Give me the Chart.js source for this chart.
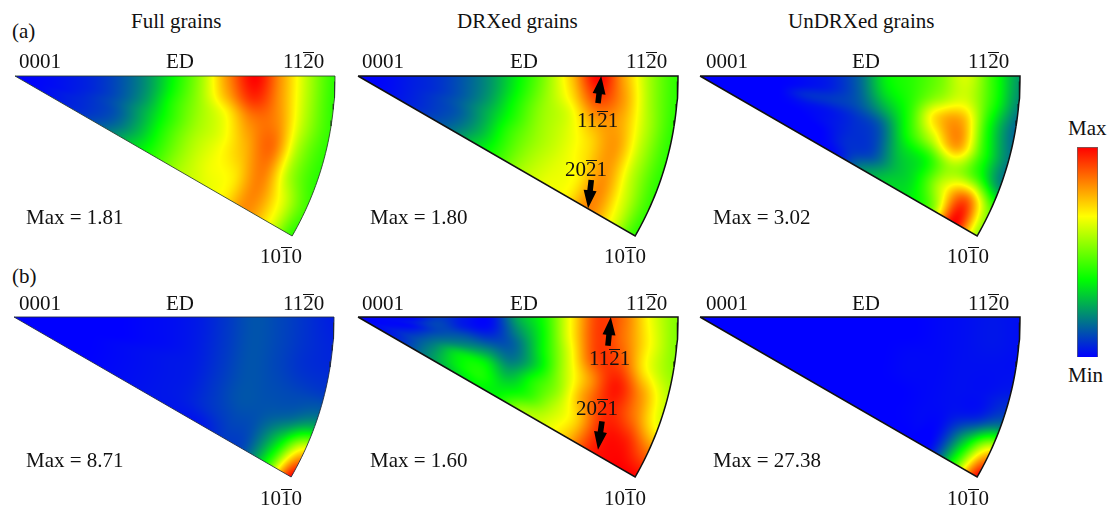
<!DOCTYPE html>
<html>
<head>
<meta charset="utf-8">
<script src="https://cdn.jsdelivr.net/npm/chart.js@4"></script>
<style>
  html, body { margin: 0; padding: 0; background: #fff; }
  #page { position: relative; width: 1110px; height: 509px; overflow: hidden; }
  canvas { position: absolute; }
  .t { position: absolute; font: 21px/24px "Liberation Serif", serif; color: #111; white-space: nowrap; }
  .bar { position: relative; }
  .bar::after { content: ""; position: absolute; left: 0; right: 0; top: 2.7px; border-top: 1.3px solid #111; }
</style>
</head>
<body>
<div id="page"></div>
<script>
// intensity grids, 0 = Min, 1 = Max
// one row per angle from the top edge, one column per radius from the 0001 corner
const angleDeg = [0, 5, 10, 15, 20, 25, 30];
const radius = [0, 1/12, 2/12, 3/12, 4/12, 5/12, 6/12, 7/12, 8/12, 9/12, 10/12, 11/12, 1];

const fullA = [
    [0,.01,.03,.06,.12,.22,.38,.56,.82,1,.8,.58,.42],
    [0,.01,.03,.06,.12,.22,.39,.56,.78,.95,.8,.58,.42],
    [0,.01,.03,.06,.12,.23,.41,.55,.67,.84,.82,.58,.43],
    [0,.01,.03,.07,.13,.25,.41,.55,.64,.78,.86,.56,.42],
    [0,.01,.04,.07,.12,.25,.42,.56,.65,.74,.84,.56,.42],
    [0,.01,.04,.07,.13,.26,.42,.56,.65,.69,.83,.65,.45],
    [0,.01,.04,.08,.16,.29,.42,.56,.63,.68,.82,.67,.42]
];
const drxA = [
    [0,.01,.04,.07,.13,.22,.36,.52,.74,1,.78,.55,.42],
    [0,.01,.04,.07,.13,.22,.37,.53,.7,.92,.8,.56,.42],
    [0,.01,.04,.07,.13,.23,.39,.54,.63,.8,.78,.58,.42],
    [0,.01,.04,.08,.14,.25,.4,.54,.62,.72,.8,.58,.42],
    [0,.01,.04,.08,.13,.25,.42,.54,.62,.7,.8,.58,.42],
    [0,.01,.04,.08,.14,.26,.42,.55,.63,.68,.82,.62,.43],
    [0,.01,.04,.09,.16,.29,.42,.56,.64,.68,.83,.65,.42]
];
const undrxA = [
    [0,0,0,0,.02,.05,.15,.36,.42,.5,.62,.42,.22],
    [0,0,0,0,.02,.05,.14,.33,.42,.54,.62,.42,.2],
    [0,0,0,0,.06,.08,.12,.25,.42,.72,.78,.38,.15],
    [0,0,0,0,.02,.03,.07,.14,.38,.6,.8,.42,.18],
    [0,0,0,0,0,.02,.06,.1,.3,.38,.56,.45,.2],
    [0,0,0,0,0,0,.06,.1,.26,.36,.62,.88,.5],
    [0,0,0,0,0,0,.03,.2,.3,.34,.5,1,.55]
];
const fullB = [
    [0,0,0,0,0,.01,.02,.04,.08,.12,.1,.07,.04],
    [0,0,0,0,0,.01,.02,.04,.08,.12,.1,.07,.05],
    [0,0,0,0,0,.01,.02,.04,.08,.12,.1,.07,.06],
    [0,0,0,0,.01,.02,.03,.04,.08,.12,.11,.1,.1],
    [0,0,0,0,.01,.02,.03,.04,.08,.12,.12,.15,.25],
    [0,0,0,0,.01,.02,.03,.04,.07,.1,.13,.33,.72],
    [0,0,0,0,.01,.02,.03,.03,.03,.08,.12,.42,1]
];
const drxB = [
    [0,0,0,.08,.03,.02,.25,.4,.68,.92,.85,.65,.52],
    [0,.01,.03,.1,.04,.03,.2,.38,.67,.92,.85,.67,.52],
    [0,.01,.02,.1,.12,.1,.15,.36,.62,.9,.9,.67,.54],
    [0,.01,.05,.14,.2,.22,.17,.33,.58,.8,.97,.8,.6],
    [0,.02,.08,.18,.33,.36,.25,.4,.55,.8,.95,.85,.65],
    [0,.02,.08,.2,.34,.4,.33,.42,.58,.72,.95,.97,.85],
    [0,.02,.08,.2,.3,.36,.37,.55,.62,.74,.95,1,1]
];
const undrxB = [
    [0,0,0,0,0,0,0,0,0,.01,.02,.03,.02],
    [0,0,0,0,0,0,0,0,0,.01,.02,.03,.02],
    [0,0,0,0,0,0,0,0,.01,.01,.02,.02,.02],
    [0,0,0,0,0,0,0,0,.01,.01,.02,.02,.05],
    [0,0,0,0,0,0,0,0,0,.01,.02,.05,.18],
    [0,0,0,0,0,0,0,0,0,.01,.03,.3,.72],
    [0,0,0,0,0,0,0,0,0,0,.03,.42,1]
];

// colour scale, same stops for the wedges and the bar
const colorStops = [0, .37, .67, 1];
const colorValues = [[0,0,255], [0,255,0], [255,255,0], [255,0,0]];

const panels = [
    {rows: fullA, apexX: 15, apexY: 76, line: 'rgba(40,60,40,.85)', lineWidth: 1},
    {rows: drxA, apexX: 358, apexY: 76, line: '#111', lineWidth: 1.5},
    {rows: undrxA, apexX: 700, apexY: 76, line: '#111', lineWidth: 1.5},
    {rows: fullB, apexX: 14, apexY: 317, line: 'rgba(30,40,60,.85)', lineWidth: 1},
    {rows: drxB, apexX: 358, apexY: 317, line: '#111', lineWidth: 1.5},
    {rows: undrxB, apexX: 700, apexY: 317, line: '#111', lineWidth: 1.5}
];

// arrows in wedge units: tail then head
panels[1].arrows = [[.75, -.085, .76, 0], [.729, -.325, .719, -.4135]];
panels[4].arrows = [[.781, -.09, .79, 0], [.7625, -.326, .75, -.415]];

const R_PX = 320;
const PAD = 10;
const page = document.getElementById('page');

function colorAt(v) {
    v = Math.max(0, Math.min(1, v));
    let i = 0;
    while (i < colorStops.length - 2 && v > colorStops[i + 1]) i++;
    const f = (v - colorStops[i]) / (colorStops[i + 1] - colorStops[i]);
    return colorValues[i].map((c, k) => c + (colorValues[i + 1][k] - c) * f);
}

function cubic(a, b, c, d, t) {
    return b + .5 * t * (c - a + t * (2 * a - 5 * b + 4 * c - d + t * (3 * (b - c) + d - a)));
}

// smooth lookup in a grid of values
function sample(rows, rowPos, colPos) {
    const nr = rows.length, nc = rows[0].length;
    const i = Math.min(nr - 2, Math.max(0, Math.floor(rowPos)));
    const j = Math.min(nc - 2, Math.max(0, Math.floor(colPos)));
    const at = (a, b) => rows[Math.max(0, Math.min(nr - 1, a))][Math.max(0, Math.min(nc - 1, b))];
    const col = [];
    for (let k = -1; k <= 2; k++) {
        col.push(cubic(at(i + k, j - 1), at(i + k, j), at(i + k, j + 1), at(i + k, j + 2), colPos - j));
    }
    return cubic(col[0], col[1], col[2], col[3], rowPos - i);
}

const heatPlugin = {
    id: 'heat',
    beforeDatasetsDraw(chart) {
        const ctx = chart.ctx, sx = chart.scales.x, sy = chart.scales.y;
        const w = chart.width, h = chart.height;
        const img = ctx.createImageData(w, h);
        const nodes = chart.data.datasets[0].data;
        const rows = angleDeg.map((a, i) => radius.map((r, j) => nodes[i * radius.length + j].v));
        const sin30 = Math.sin(Math.PI / 6), cos30 = Math.cos(Math.PI / 6);
        for (let py = 0; py < h; py++) {
            const dy = sy.getValueForPixel(py + .5);
            for (let px = 0; px < w; px++) {
                const dx = sx.getValueForPixel(px + .5);
                const r = Math.hypot(dx, dy);
                const edge = Math.min(-dy, dx * sin30 + dy * cos30, 1 - r) * R_PX;
                if (edge < -.5 || dx < 0) continue;
                const theta = Math.atan2(-dy, dx) * 180 / Math.PI;
                const v = sample(rows, Math.max(0, Math.min(6, theta / 5)), Math.min(12, r * 12));
                const c = colorAt(v);
                const o = (py * w + px) * 4;
                img.data[o] = c[0];
                img.data[o + 1] = c[1];
                img.data[o + 2] = c[2];
                img.data[o + 3] = 255 * Math.min(1, edge + .5);
            }
        }
        ctx.putImageData(img, 0, 0);
    },
    afterDatasetsDraw(chart) {
        const arrows = chart.config.options.arrows || [];
        const ctx = chart.ctx, sx = chart.scales.x, sy = chart.scales.y;
        arrows.forEach(a => {
            const x0 = sx.getPixelForValue(a[0]), y0 = sy.getPixelForValue(a[1]);
            const x1 = sx.getPixelForValue(a[2]), y1 = sy.getPixelForValue(a[3]);
            const len = Math.hypot(x1 - x0, y1 - y0);
            const ux = (x1 - x0) / len, uy = (y1 - y0) / len;
            const nx = -uy, ny = ux;
            const hx = x1 - ux * 18, hy = y1 - uy * 18;
            ctx.save();
            ctx.fillStyle = '#000';
            ctx.beginPath();
            ctx.moveTo(x1, y1);
            ctx.lineTo(hx + nx * 6.5, hy + ny * 6.5);
            ctx.lineTo(hx + nx * 2.8, hy + ny * 2.8);
            ctx.lineTo(x0 + nx * 2.8, y0 + ny * 2.8);
            ctx.lineTo(x0 - nx * 2.8, y0 - ny * 2.8);
            ctx.lineTo(hx - nx * 2.8, hy - ny * 2.8);
            ctx.lineTo(hx - nx * 6.5, hy - ny * 6.5);
            ctx.closePath();
            ctx.fill();
            ctx.restore();
        });
    }
};

function addCanvas(left, top, w, h) {
    const c = document.createElement('canvas');
    c.width = w;
    c.height = h;
    c.style.left = left + 'px';
    c.style.top = top + 'px';
    c.style.width = w + 'px';
    c.style.height = h + 'px';
    page.appendChild(c);
    return c;
}

function wedgeOutline() {
    const pts = [{x: 0, y: 0}, {x: 1, y: 0}];
    for (let a = 1; a <= 30; a++) {
        const t = a * Math.PI / 180;
        pts.push({x: Math.cos(t), y: -Math.sin(t)});
    }
    pts.push({x: 0, y: 0});
    return pts;
}

panels.forEach(p => {
    const nodes = [];
    angleDeg.forEach((a, i) => radius.forEach((r, j) => {
        const t = a * Math.PI / 180;
        nodes.push({x: r * Math.cos(t), y: -r * Math.sin(t), v: p.rows[i][j]});
    }));
    new Chart(addCanvas(p.apexX - PAD, p.apexY - PAD, R_PX + 2 * PAD, 160 + 2 * PAD), {
        type: 'scatter',
        data: {
            datasets: [
                {data: nodes, pointRadius: 0, showLine: false},
                {data: wedgeOutline(), pointRadius: 0, showLine: true, borderColor: p.line, borderWidth: p.lineWidth, tension: 0}
            ]
        },
        options: {
            responsive: false,
            animation: false,
            arrows: p.arrows,
            layout: {padding: 0},
            plugins: {legend: {display: false}, tooltip: {enabled: false}},
            scales: {
                x: {type: 'linear', display: false, min: -PAD / R_PX, max: 1 + PAD / R_PX},
                y: {type: 'linear', display: false, min: -(160 + PAD) / R_PX, max: PAD / R_PX}
            }
        },
        plugins: [heatPlugin]
    });
});

// colour bar
new Chart(addCanvas(1072, 142, 31, 220), {
    type: 'bar',
    data: {
        labels: [''],
        datasets: [{
            data: [1],
            borderColor: '#666',
            borderWidth: 1,
            categoryPercentage: 1,
            barPercentage: 1,
            backgroundColor(c) {
                const area = c.chart.chartArea;
                if (!area) return '#0f0';
                const g = c.chart.ctx.createLinearGradient(0, area.bottom, 0, area.top);
                colorStops.forEach((s, i) => g.addColorStop(s, 'rgb(' + colorValues[i].join(',') + ')'));
                return g;
            }
        }]
    },
    options: {
        responsive: false,
        animation: false,
        layout: {padding: 5},
        plugins: {legend: {display: false}, tooltip: {enabled: false}},
        scales: {
            x: {display: false},
            y: {display: false, min: 0, max: 1}
        }
    }
});

// text: [html, left, baseline]
const POLE_1120 = '11<span class="bar">2</span>0';
const POLE_1010 = '10<span class="bar">1</span>0';
const POLE_1121 = '11<span class="bar">2</span>1';
const POLE_2021 = '20<span class="bar">2</span>1';
const texts = [
    ['(a)', 12, 38], ['(b)', 12, 283],
    ['Full grains', 131, 28], ['DRXed grains', 457, 28], ['UnDRXed grains', 788, 28],
    ['0001', 19, 68], ['ED', 166, 68], [POLE_1120, 283, 68],
    ['0001', 362, 68], ['ED', 510, 68], [POLE_1120, 626, 68],
    ['0001', 706, 68], ['ED', 852, 68], [POLE_1120, 968, 68],
    ['0001', 19, 310], ['ED', 166, 310], [POLE_1120, 283, 310],
    ['0001', 362, 310], ['ED', 510, 310], [POLE_1120, 626, 310],
    ['0001', 706, 310], ['ED', 852, 310], [POLE_1120, 968, 310],
    ['Max = 1.81', 26, 224], ['Max = 1.80', 370, 224], ['Max = 3.02', 713, 224],
    ['Max = 8.71', 26, 467], ['Max = 1.60', 370, 467], ['Max = 27.38', 713, 467],
    [POLE_1010, 260, 263], [POLE_1010, 604, 263], [POLE_1010, 947, 263],
    [POLE_1010, 260, 505], [POLE_1010, 604, 505], [POLE_1010, 947, 505],
    [POLE_1121, 577, 127], [POLE_2021, 565, 176],
    [POLE_1121, 589, 365], [POLE_2021, 576, 415],
    ['Max', 1068, 135], ['Min', 1068, 382]
];
texts.forEach(t => {
    const s = document.createElement('div');
    s.className = 't';
    s.innerHTML = t[0];
    s.style.left = t[1] + 'px';
    s.style.top = (t[2] - 19) + 'px';
    page.appendChild(s);
});
</script>
</body>
</html>
